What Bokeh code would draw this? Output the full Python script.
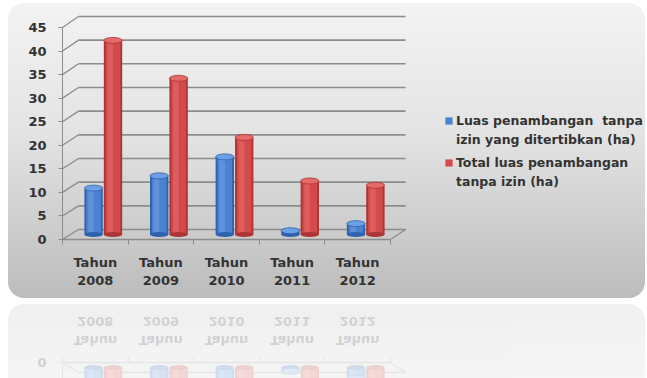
from bokeh.plotting import figure
from bokeh.models import Range1d, FixedTicker, LinearAxis, Legend, LegendItem, ColumnDataSource
from bokeh.layouts import column
from bokeh.embed import file_html
from bokeh.resources import INLINE

# ---- data ----
categories = ["Tahun\n2008", "Tahun\n2009", "Tahun\n2010", "Tahun\n2011", "Tahun\n2012"]
luas_ditertibkan = [9.8, 12.4, 16.4, 0.8, 2.3]
total_luas = [41.0, 33.0, 20.5, 11.3, 10.4]
series_lines = [["Luas penambangan  tanpa", "izin yang ditertibkan (ha)"],
                ["Total luas penambangan", "tanpa izin (ha)"]]
y_ticks = [0, 5, 10, 15, 20, 25, 30, 35, 40, 45]

# ---- style / geometry ----
FONT = "DejaVu Sans"
TXT = "#333333"
GRID = "#8c8c8c"
BACK_PX = 4.733    # px per unit on back wall
FRONT_PX = 4.711   # px per unit on front axis
FLOOR_DY = 10.0    # px the back floor lies above the front floor
DX_BACK = 0.244    # x units the back wall is shifted right
MID = 1.06         # bar plane offset (units)
X_WALL = 4.73      # right end of the back wall
X_END = 8.387      # frame extends under the legend

idx = list(range(len(categories)))


def front_to_back(v):
    return (v * FRONT_PX - FLOOR_DY) / BACK_PX


def build(p):
    n = len(y_ticks)
    p.segment(x0=[-0.5 + DX_BACK] * n, y0=y_ticks, x1=[X_WALL] * n, y1=y_ticks,
              line_color=GRID, line_width=1.6)
    p.segment(x0=[-0.5] * n, y0=[front_to_back(v) for v in y_ticks],
              x1=[-0.5 + DX_BACK] * n, y1=y_ticks, line_color=GRID, line_width=1.3)
    p.segment(x0=[4.5], y0=[front_to_back(0)], x1=[X_WALL], y1=[0], line_color=GRID, line_width=1.3)

    src = ColumnDataSource(dict(
        xb=[i + 0.122 - 0.148 for i in idx],
        xr=[i + 0.122 + 0.148 for i in idx],
        xbh=[i + 0.122 - 0.148 - 0.04 for i in idx],
        xrh=[i + 0.122 + 0.148 - 0.04 for i in idx],
        tb=[v - MID for v in luas_ditertibkan],
        tr=[v - MID for v in total_luas],
        base=[-MID] * len(idx),
    ))
    W = 0.28
    rends = []
    for xcol, xh, tcol, dark, mid, light in [("xb", "xbh", "tb", "#2f62ad", "#4a82d0", "#6c9fe3"),
                                             ("xr", "xrh", "tr", "#ad3434", "#d24a4a", "#e56a6a")]:
        p.vbar(x=xcol, top=tcol, bottom="base", width=W, source=src,
               fill_color=dark, line_color=None)
        r = p.vbar(x=xcol, top=tcol, bottom="base", width=W * 0.8, source=src,
                   fill_color=mid, line_color=None)
        rends.append(r)
        p.vbar(x=xh, top=tcol, bottom="base", width=W * 0.3, source=src,
               fill_color=light, line_color=None, fill_alpha=0.6)
        p.ellipse(x=xcol, y="base", width=W, height=5, height_units="screen", source=src,
                  fill_color=dark, line_color=None)
        p.ellipse(x=xcol, y=tcol, width=W, height=6, height_units="screen", source=src,
                  fill_color=light, line_color=dark, line_width=0.8)
    blank = p.vbar(x=[], top=[], width=0.1, fill_alpha=0, line_alpha=0)
    return rends, blank


def make_fig(height, y0, y1, fy1, border_bottom, border_top, legend, styles):
    p = figure(width=637, height=height, output_backend="svg", toolbar_location=None,
               x_range=Range1d(-0.5, X_END), y_range=Range1d(y0, y1),
               x_axis_location=None, y_axis_location=None,
               min_border_left=54, min_border_right=0,
               min_border_top=border_top, min_border_bottom=border_bottom,
               border_fill_color=None, background_fill_color=None, outline_line_color=None)
    p.xgrid.visible = False
    p.ygrid.visible = False
    p.extra_y_ranges = {"front": Range1d(0, fy1)}

    yax = LinearAxis(y_range_name="front", ticker=FixedTicker(ticks=y_ticks), bounds=(0, 45))
    yax.axis_line_color = GRID
    yax.major_tick_line_color = GRID
    yax.major_tick_out = 4
    yax.major_tick_in = 0
    yax.minor_tick_line_color = None
    yax.major_label_standoff = 12
    yax.major_label_text_font = FONT
    yax.major_label_text_font_size = "13px"
    yax.major_label_text_font_style = "bold"
    yax.major_label_text_color = TXT
    p.add_layout(yax, "left")

    xax = LinearAxis(ticker=FixedTicker(ticks=idx, minor_ticks=[i - 0.5 for i in idx] + [4.5]),
                     bounds=(-0.5, 4.5))
    xax.major_label_overrides = {i: c for i, c in zip(idx, categories)}
    xax.axis_line_color = GRID
    xax.axis_line_width = 1.3
    xax.major_tick_line_color = None
    xax.minor_tick_line_color = GRID
    xax.minor_tick_out = 5
    xax.minor_tick_in = 0
    xax.major_label_standoff = 9
    xax.major_label_text_font = FONT
    xax.major_label_text_font_size = "13px"
    xax.major_label_text_font_style = "bold"
    xax.major_label_text_color = TXT
    xax.major_label_text_line_height = 1.25
    p.add_layout(xax, "below")

    rends, blank = build(p)
    if legend:
        for k, ypos in enumerate([92, 50]):
            lg = Legend(items=[LegendItem(label=series_lines[k][0], renderers=[rends[k]]),
                               LegendItem(label=series_lines[k][1], renderers=[blank])],
                        location=(382, ypos), orientation="vertical")
            lg.background_fill_color = None
            lg.background_fill_alpha = 0
            lg.border_line_color = None
            lg.padding = 0
            lg.margin = 0
            lg.spacing = 4
            lg.glyph_width = 9
            lg.glyph_height = 9
            lg.label_standoff = 3
            lg.label_height = 15
            lg.label_text_font = FONT
            lg.label_text_font_size = "12.5px"
            lg.label_text_font_style = "bold"
            lg.label_text_color = TXT
            p.add_layout(lg, "center")
    p.styles = styles
    return p


panel = make_fig(295, -2.113, 45.42, 47.76, 59, 11, True,
                 {"background": "linear-gradient(to bottom, #f3f3f3 0%, #e3e3e3 45%, #bcbcbc 100%)",
                  "border-radius": "16px", "margin-left": "8px", "margin-top": "3px"})

refl = make_fig(80, -2.113, 2.32, 4.458, 59, 0, False,
                {"background": "linear-gradient(to bottom, #d6d6d6 0%, #bcbcbc 100%)",
                 "border-radius": "0 0 16px 16px", "margin-left": "8px", "margin-top": "6px",
                 "transform": "scaleY(-1)", "opacity": "0.22"})

layout = column(panel, refl, spacing=0)
open("out.html", "w").write(file_html(layout, INLINE))
